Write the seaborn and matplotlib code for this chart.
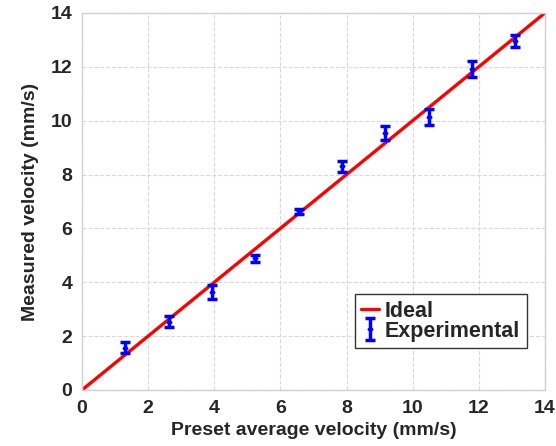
import seaborn as sns
import matplotlib.pyplot as plt

# preset vs measured velocity (mm/s)
preset = [1.31, 2.62, 3.93, 5.24, 6.55, 7.86, 9.17, 10.48, 11.79, 13.10]
measured = [1.57, 2.54, 3.65, 4.90, 6.63, 8.30, 9.54, 10.14, 11.93, 12.95]
err = [0.21, 0.21, 0.26, 0.13, 0.08, 0.20, 0.25, 0.30, 0.29, 0.23]

ideal_x = [0, 14]
ideal_y = [0, 14]
ticks = [0, 2, 4, 6, 8, 10, 12, 14]

sns.set_style('whitegrid', {'grid.linestyle': '--', 'grid.color': '#d9d9d9',
                            'axes.edgecolor': '#d0d0d0'})
plt.rcParams['font.family'] = ['Liberation Sans', 'DejaVu Sans']
plt.rcParams['font.weight'] = 'bold'

fig = plt.figure(figsize=(5.56, 4.46), dpi=100)
ax = fig.add_axes([0.1475, 0.1256, 0.8325, 0.8453])

sns.lineplot(x=ideal_x, y=ideal_y, color='red', linewidth=2.4, label='Ideal', ax=ax)
ax.errorbar(preset, measured, yerr=err, fmt='D', color='blue', markersize=2.5,
            elinewidth=2.5, capsize=3.5, capthick=2.5, label='Experimental')

ax.set_xlim(0, 14)
ax.set_ylim(0, 14)
ax.set_xticks(ticks)
ax.set_yticks(ticks)
ax.tick_params(length=0, labelsize=14, pad=7)
for lab in ax.get_xticklabels() + ax.get_yticklabels():
    lab.set_fontweight('bold')
ax.grid(True, linewidth=0.8)
for s in ax.spines.values():
    s.set_linewidth(1)

ax.set_xlabel('Preset average velocity (mm/s)', fontsize=14, fontweight='bold', labelpad=4)
ax.set_ylabel('Measured velocity (mm/s)', fontsize=14, fontweight='bold', labelpad=8)

leg = ax.legend(loc='lower right', bbox_to_anchor=(0.961, 0.111), borderaxespad=0,
                fontsize=15.5, frameon=True, fancybox=False, edgecolor='#333333',
                framealpha=1, handlelength=0.8, handletextpad=0.3, borderpad=0.3,
                labelspacing=-0.05)
leg.get_frame().set_linewidth(1)
for t in leg.get_texts():
    t.set_fontweight('bold')

plt.savefig('out.png', dpi=100)
